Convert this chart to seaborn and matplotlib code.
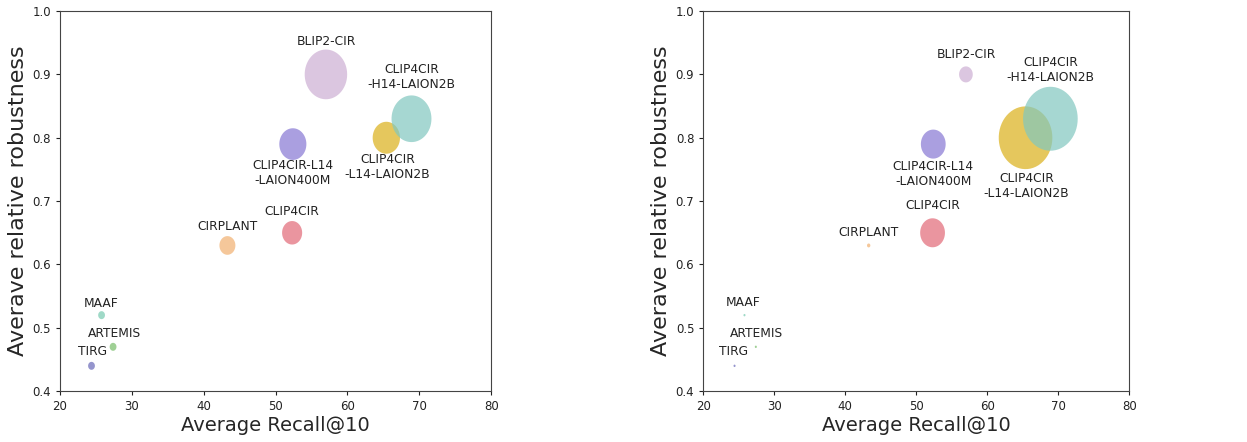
import matplotlib
matplotlib.use("Agg")
import numpy as np
import pandas as pd
import matplotlib.pyplot as plt
from matplotlib.path import Path
import seaborn as sns

# data
models = ["TIRG", "MAAF", "ARTEMIS", "CIRPLANT", "CLIP4CIR",
          "CLIP4CIR-L14\n-LAION400M", "BLIP2-CIR",
          "CLIP4CIR\n-L14-LAION2B", "CLIP4CIR\n-H14-LAION2B"]
recall = [24.4, 25.8, 27.4, 43.3, 52.3, 52.4, 57.0, 65.4, 68.9]
robustness = [0.44, 0.52, 0.47, 0.63, 0.65, 0.79, 0.90, 0.80, 0.83]
left_sizes = [33, 33, 33, 181, 286, 520, 1280, 530, 1130]
right_sizes = [3, 3, 3, 8, 436, 436, 133, 2040, 2120]
colors = ["#6969b8", "#77cab0", "#77bc69", "#f1b06f", "#e26977",
          "#8677d3", "#cdaed3", "#dbb019", "#80c7bf"]

# label offsets (pixels) relative to each bubble centre
left_offsets = [(1, 14), (0, 12), (1, 13), (0, 19), (0, 21),
                (0, -29), (0, 33), (1, -29), (0, 42)]
right_offsets = [(-1, 14), (-1, 13), (1, 13), (0, 13), (0, 27),
                 (0, -30), (0, 20), (1, -48), (0, 49)]

sns.set_style("ticks")
plt.rcParams["font.family"] = ["DejaVu Sans"]

# the reference bubbles are slightly taller than wide
t = np.linspace(0, 2 * np.pi, 60)
ellipse = Path(np.column_stack([np.cos(t) / 1.17, np.sin(t)]), closed=True)

fig = plt.figure(figsize=(12.47, 4.42), dpi=100)
ax1 = fig.add_axes([0.048, 0.115, 0.346, 0.86])
ax2 = fig.add_axes([0.564, 0.115, 0.3415, 0.86])


def draw_panel(ax, sizes, offsets):
    df = pd.DataFrame({"model": models, "recall": recall,
                       "robustness": robustness, "size": sizes})
    sns.scatterplot(data=df, x="recall", y="robustness", hue="model",
                    palette=colors, s=np.array(sizes), marker=ellipse,
                    alpha=0.7, linewidth=0, legend=False, ax=ax)
    for name, x, y, off in zip(models, recall, robustness, offsets):
        ax.annotate(name, (x, y), xytext=off, textcoords="offset pixels",
                    ha="center", va="center", fontsize=8.8, color="#222222")
    ax.set_xlim(20, 80)
    ax.set_ylim(0.4, 1.0)
    ax.set_xticks([20, 30, 40, 50, 60, 70, 80])
    ax.set_yticks([0.4, 0.5, 0.6, 0.7, 0.8, 0.9, 1.0])
    ax.tick_params(labelsize=8.5, length=3, colors="#222222")
    ax.set_xlabel("Average Recall@10", fontsize=14, labelpad=2)
    ax.set_ylabel("Averave relative robustness", fontsize=16, labelpad=3)
    for sp in ax.spines.values():
        sp.set_color("#444444")
        sp.set_visible(True)


draw_panel(ax1, left_sizes, left_offsets)
draw_panel(ax2, right_sizes, right_offsets)

fig.savefig("out.png", dpi=100)
